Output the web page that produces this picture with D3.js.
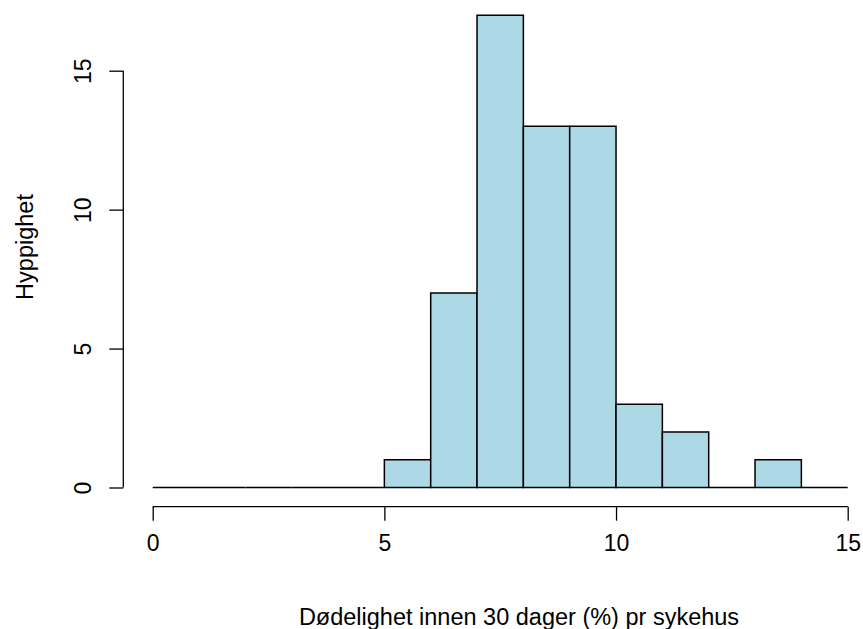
<!DOCTYPE html>
<html>
<head>
<meta charset="utf-8">
<script src="https://cdn.jsdelivr.net/npm/d3@7"></script>
<style>
  body { margin: 0; background: #fff; }
  text { font-family: "Liberation Sans", Arial, sans-serif; fill: #000; }
</style>
</head>
<body>
<svg id="chart" width="863" height="629"></svg>
<script>
// histogram bins (lower edge) and counts
const binStarts = [0, 1, 2, 3, 4, 5, 6, 7, 8, 9, 10, 11, 12, 13, 14];
const counts    = [0, 0, 0, 0, 0, 1, 7, 17, 13, 13, 3, 2, 0, 1, 0];
const binWidth = 1;
const xTicks = [0, 5, 10, 15];
const yTicks = [0, 5, 10, 15];
const xLabel = 'Dødelighet innen 30 dager (%) pr sykehus';
const yLabel = 'Hyppighet';

const tickFont = 23;
const titleFont = 23.5;
const svg = d3.select('#chart');

var x = d3.scaleLinear()
    .domain([0, 15])
    .range([152.7, 847.7]);

var y = d3.scaleLinear()
    .domain([0, 15])
    .range([487.5, 70.7]);

const bins = binStarts.map((b, i) => ({ x0: b, x1: b + binWidth, n: counts[i] }));

// bars as closed paths, so that empty bins still show as a line on the baseline
svg.append('g')
    .selectAll('path')
    .data(bins)
    .enter()
    .append('path')
        .attr('d', d => `M${x(d.x0)},${y(0)}V${y(d.n)}H${x(d.x1)}V${y(0)}Z`)
        .attr('fill', '#add8e6')
        .attr('stroke', '#000')
        .attr('stroke-width', 1.5);

// x axis
const xAxis = svg.append('g')
    .attr('transform', 'translate(0,506.7)')
    .call(d3.axisBottom(x).tickValues(xTicks).tickSize(14).tickPadding(14).tickFormat(d3.format('d')));

// y axis
const yAxis = svg.append('g')
    .attr('transform', 'translate(123.3,0)')
    .call(d3.axisLeft(y).tickValues(yTicks).tickSize(14).tickFormat(d3.format('d')));

[xAxis, yAxis].forEach(a => {
    a.select('.domain').attr('stroke', '#000').attr('stroke-width', 1.3);
    a.selectAll('.tick line').attr('stroke', '#000').attr('stroke-width', 1.3);
    a.selectAll('.tick text').attr('font-size', tickFont).attr('font-family', '"Liberation Sans", Arial, sans-serif');
});

// R style: axis line only from first to last tick
xAxis.select('.domain').attr('d', `M${x(0)},0H${x(15)}`);
yAxis.select('.domain').attr('d', `M0,${y(0)}V${y(15)}`);

// rotate y tick labels
yAxis.selectAll('.tick text')
    .attr('x', 0)
    .attr('dy', 0)
    .attr('text-anchor', 'middle')
    .attr('dominant-baseline', 'central')
    .attr('transform', 'translate(-40,0) rotate(-90)');

// axis titles
svg.append('text')
    .attr('x', 519)
    .attr('y', 625)
    .attr('text-anchor', 'middle')
    .attr('font-size', titleFont)
    .text(xLabel);

svg.append('text')
    .attr('transform', 'translate(25,247) rotate(-90)')
    .attr('text-anchor', 'middle')
    .attr('dominant-baseline', 'central')
    .attr('font-size', titleFont)
    .text(yLabel);
</script>
</body>
</html>
